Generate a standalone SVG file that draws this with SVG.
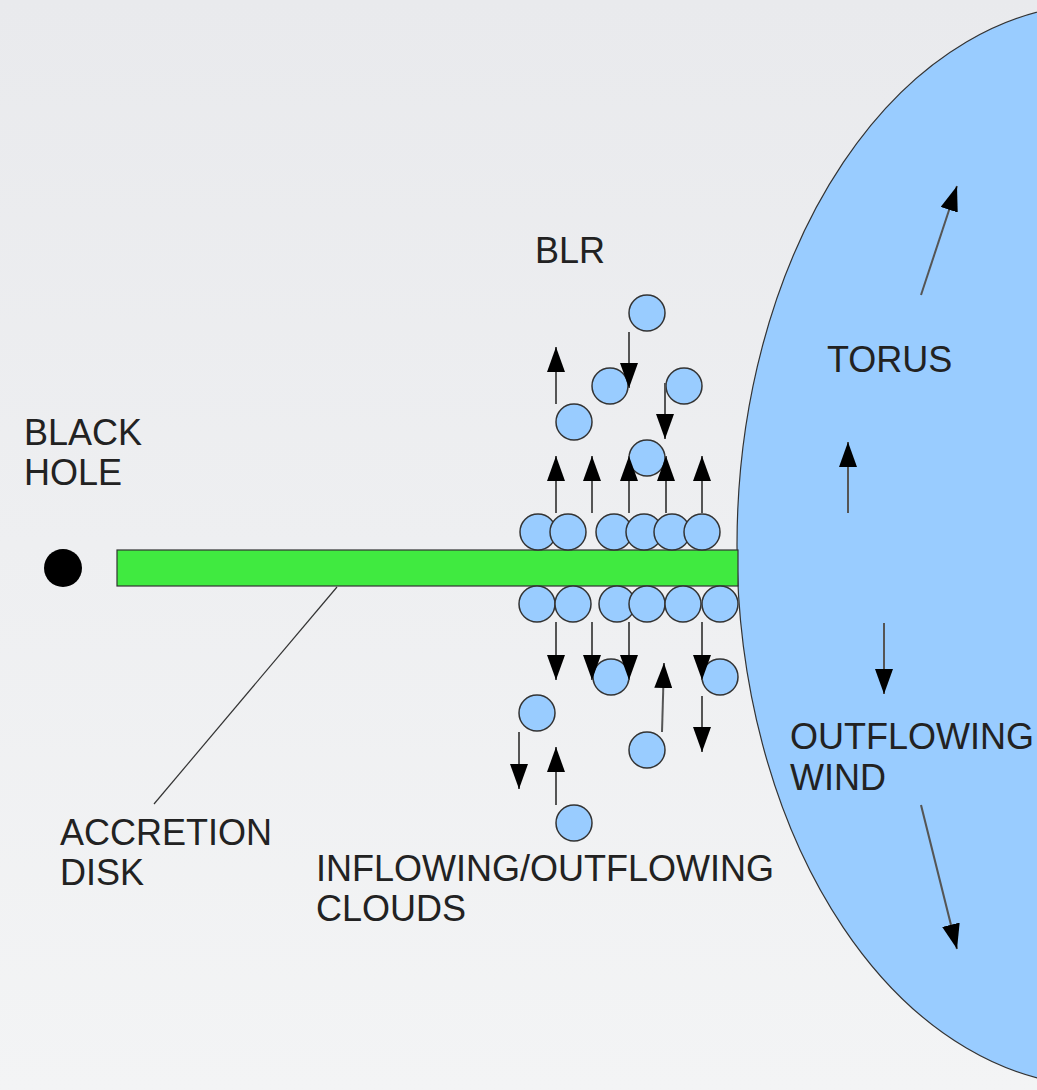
<svg xmlns="http://www.w3.org/2000/svg" width="1037" height="1090" viewBox="0 0 1037 1090">
<style>
  .lbl { font-family: "Liberation Sans", Arial, sans-serif; font-size: 36px; fill: #222; }
  .cloud { fill: #99ccff; stroke: #333; stroke-width: 1.5; }
  .arr { stroke: #555; stroke-width: 2; fill: none; marker-end: url(#head); }
</style>
<defs>
  <linearGradient id="bg" x1="0" y1="0" x2="0" y2="1">
    <stop offset="0" stop-color="#e9eaed"/>
    <stop offset="1" stop-color="#f3f4f5"/>
  </linearGradient>
  <marker id="head" markerUnits="userSpaceOnUse" markerWidth="26" markerHeight="18" refX="25" refY="9" orient="auto">
    <path d="M0,0 L25,9 L0,18 Z" fill="#000"/>
  </marker>
</defs>
<rect x="0" y="0" width="1037" height="1090" fill="url(#bg)"/>

<g id="torus">
  <ellipse cx="1100" cy="545" rx="363" ry="541" fill="#99ccff" stroke="#333" stroke-width="1.2"/>
</g>

<g id="black-hole">
  <circle cx="63" cy="568" r="19" fill="#000"/>
</g>

<g id="accretion-disk">
  <rect x="117" y="550" width="621" height="36" fill="#40ea40" stroke="#333" stroke-width="1.2"/>
</g>

<g id="clouds">
  <circle class="cloud" cx="647" cy="313" r="18"/>
  <circle class="cloud" cx="610" cy="386" r="18"/>
  <circle class="cloud" cx="684" cy="386" r="18"/>
  <circle class="cloud" cx="574" cy="422" r="18"/>
  <circle class="cloud" cx="647" cy="458" r="18"/>
  <circle class="cloud" cx="538" cy="532" r="18"/>
  <circle class="cloud" cx="568" cy="532" r="18"/>
  <circle class="cloud" cx="614" cy="532" r="18"/>
  <circle class="cloud" cx="644" cy="532" r="18"/>
  <circle class="cloud" cx="672" cy="532" r="18"/>
  <circle class="cloud" cx="702" cy="532" r="18"/>
  <circle class="cloud" cx="537" cy="604" r="18"/>
  <circle class="cloud" cx="573" cy="604" r="18"/>
  <circle class="cloud" cx="617" cy="604" r="18"/>
  <circle class="cloud" cx="647" cy="604" r="18"/>
  <circle class="cloud" cx="683" cy="604" r="18"/>
  <circle class="cloud" cx="720" cy="604" r="18"/>
  <circle class="cloud" cx="611" cy="677" r="18"/>
  <circle class="cloud" cx="720" cy="677" r="18"/>
  <circle class="cloud" cx="537" cy="713" r="18"/>
  <circle class="cloud" cx="647" cy="750" r="18"/>
  <circle class="cloud" cx="574" cy="823" r="18"/>
</g>

<g id="connectors">
  <line class="arr" x1="556" y1="404" x2="556" y2="347"/>
  <line class="arr" x1="629" y1="332" x2="629" y2="388"/>
  <line class="arr" x1="665" y1="383" x2="665" y2="439"/>
  <line class="arr" x1="556" y1="513" x2="556" y2="456"/>
  <line class="arr" x1="592" y1="513" x2="592" y2="456"/>
  <line class="arr" x1="629" y1="513" x2="629" y2="456"/>
  <line class="arr" x1="666" y1="513" x2="666" y2="456"/>
  <line class="arr" x1="702" y1="513" x2="702" y2="456"/>
  <line class="arr" x1="556" y1="622" x2="556" y2="680"/>
  <line class="arr" x1="592" y1="622" x2="592" y2="680"/>
  <line class="arr" x1="629" y1="622" x2="629" y2="680"/>
  <line class="arr" x1="702" y1="622" x2="702" y2="680"/>
  <line class="arr" x1="519" y1="732" x2="519" y2="789"/>
  <line class="arr" x1="556" y1="805" x2="556" y2="747"/>
  <line class="arr" x1="662" y1="732" x2="664" y2="663"/>
  <line class="arr" x1="702" y1="696" x2="702" y2="752"/>
  <line class="arr" x1="921" y1="295" x2="957" y2="186"/>
  <line class="arr" x1="848" y1="513" x2="848" y2="442"/>
  <line class="arr" x1="884" y1="623" x2="884" y2="694"/>
  <line class="arr" x1="921" y1="805" x2="957" y2="949"/>
  <line x1="337" y1="587" x2="154" y2="804" stroke="#333" stroke-width="1.2"/>
</g>

<g id="labels">
  <text class="lbl" x="535" y="263">BLR</text>
  <text class="lbl" x="827" y="372">TORUS</text>
  <text class="lbl" x="24" y="445">BLACK</text>
  <text class="lbl" x="24" y="485">HOLE</text>
  <text class="lbl" x="790" y="749">OUTFLOWING</text>
  <text class="lbl" x="790" y="790">WIND</text>
  <text class="lbl" x="60" y="845">ACCRETION</text>
  <text class="lbl" x="60" y="885">DISK</text>
  <text class="lbl" x="316" y="881">INFLOWING/OUTFLOWING</text>
  <text class="lbl" x="316" y="921">CLOUDS</text>
</g>
</svg>
